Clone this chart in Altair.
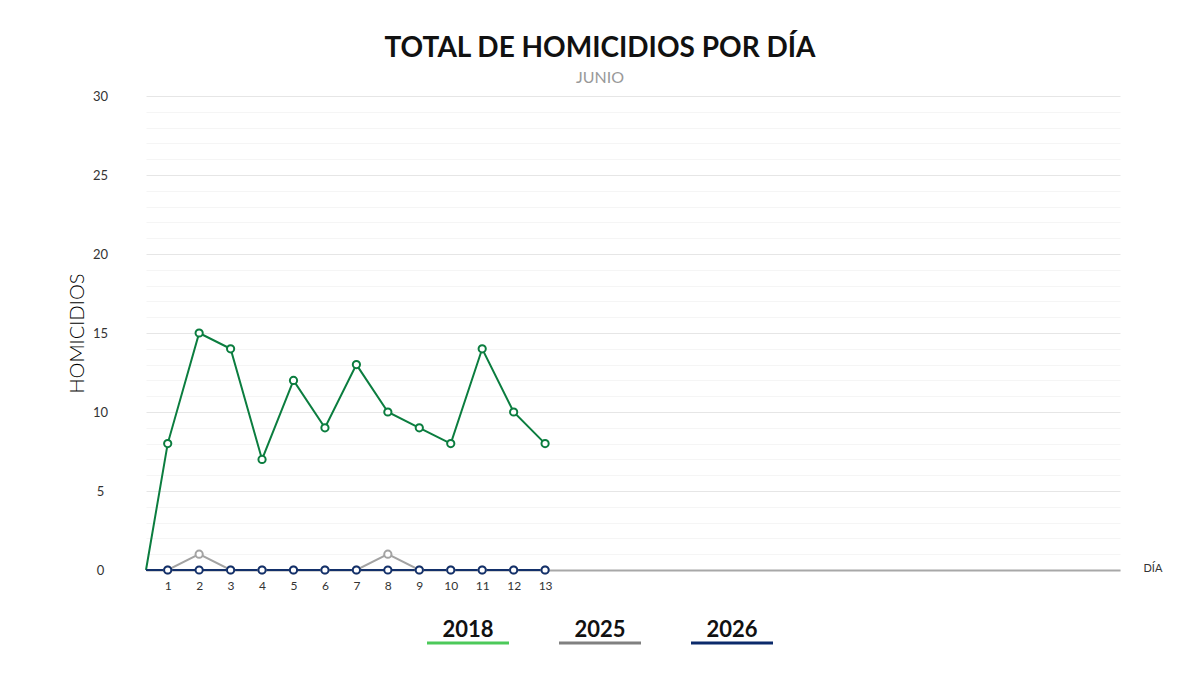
import altair as alt
import pandas as pd

# ---- data ----
DIAS = list(range(1, 14))
V2018 = [8, 15, 14, 7, 12, 9, 13, 10, 9, 8, 14, 10, 8]
V2025 = [0, 1, 0, 0, 0, 0, 0, 1, 0, 0, 0, 0, 0]
V2026 = [0, 0, 0, 0, 0, 0, 0, 0, 0, 0, 0, 0, 0]
SERIES = ["2018", "2025", "2026"]
LINE_COLORS = ["#0b7d3f", "#a3a3a3", "#13306a"]
LEGEND_COLORS = ["#4cc95a", "#808080", "#0b2a6b"]
DIA_INICIO = 0.31   # origin of the lines (value 0)
DIA_FIN = 31.28
Y_TICKS = list(range(0, 31))

rows = []
for s, vals in zip(SERIES, [V2018, V2025, V2026]):
    rows.append({"serie": s, "dia": DIA_INICIO, "homicidios": 0, "inicio": True})
    for d, v in zip(DIAS, vals):
        rows.append({"serie": s, "dia": d, "homicidios": v, "inicio": False})
df = pd.DataFrame(rows)
leg = pd.DataFrame({"serie": SERIES})

FONT = "Lato"

x = alt.X("dia:Q",
          scale=alt.Scale(domain=[DIA_INICIO, DIA_FIN], nice=False, zero=False),
          axis=alt.Axis(values=DIAS, grid=False, ticks=False, tickSize=0,
                        labelPadding=10, labelFontSize=12, labelColor="#333333",
                        labelFont=FONT, domainColor="#a8a8a8", domainWidth=2,
                        title="DÍA", titleX=997, titleY=-2, titleAlign="left",
                        titleBaseline="middle", titleFontSize=11,
                        titleFontWeight="normal", titleColor="#333333",
                        titleFont=FONT))
y = alt.Y("homicidios:Q",
          scale=alt.Scale(domain=[0, 30], nice=False),
          axis=alt.Axis(values=Y_TICKS,
                        labelExpr="datum.value % 5 === 0 ? datum.label : ''",
                        gridColor={"condition": {"test": "datum.value % 5 === 0",
                                                 "value": "#e6e6e6"},
                                   "value": "#f5f5f5"},
                        domain=False, ticks=False, tickSize=0,
                        labelPadding=46, labelAlign="center", labelFontSize=13,
                        labelColor="#333333", labelFont=FONT,
                        title="HOMICIDIOS", titleFontSize=20,
                        titleFontWeight=300, titleColor="#000000",
                        titleFont=FONT, titlePadding=5))
color = alt.Color("serie:N", scale=alt.Scale(domain=SERIES, range=LINE_COLORS),
                  legend=None)

base = alt.Chart(df)
lines = base.mark_line(strokeWidth=2).encode(x=x, y=y, color=color,
                                             order="dia:Q")
points = base.transform_filter("!datum.inicio").mark_point(
    filled=True, fill="white", size=52, strokeWidth=2, opacity=1
).encode(x=x, y=y, stroke=alt.Stroke("serie:N",
                                     scale=alt.Scale(domain=SERIES, range=LINE_COLORS),
                                     legend=None))
main = alt.layer(lines, points)

lx = alt.X("serie:N", scale=alt.Scale(type="point", domain=SERIES,
                                      range=[322, 586], padding=0), axis=None)
leg_text = alt.Chart(leg).mark_text(fontSize=22, fontWeight="bold", font=FONT,
                                    color="#111111", baseline="alphabetic").encode(
    x=lx, y=alt.value(541), text="serie:N")
leg_bar = alt.Chart(leg).mark_tick(orient="horizontal", size=82, thickness=3,
                                   opacity=1).encode(
    x=lx, y=alt.value(547),
    color=alt.Color("serie:N", scale=alt.Scale(domain=SERIES, range=LEGEND_COLORS),
                    legend=None))
legend = alt.layer(leg_text, leg_bar)

chart = alt.layer(main, legend).resolve_scale(
    x="independent", color="independent"
).properties(
    width=974, height=474,
    view=alt.ViewConfig(strokeWidth=0, strokeOpacity=0),
    autosize=alt.AutoSizeParams(type="none"),
    padding={"left": 138, "top": 88, "right": 72, "bottom": 97},
    title=alt.TitleParams(text="TOTAL DE HOMICIDIOS POR DÍA", subtitle="JUNIO",
                          anchor="middle", frame="group", dx=-33, offset=4,
                          font=FONT, fontSize=28, fontWeight="bold", color="#111111",
                          subtitleFont=FONT, subtitleFontSize=16,
                          subtitleFontWeight="normal",
                          subtitleColor="#999999", subtitlePadding=7)
).configure_view(stroke="transparent", strokeWidth=0, strokeOpacity=0
).configure(background="white")

chart.save("out.html", embed_options={"renderer": "svg", "actions": False})
